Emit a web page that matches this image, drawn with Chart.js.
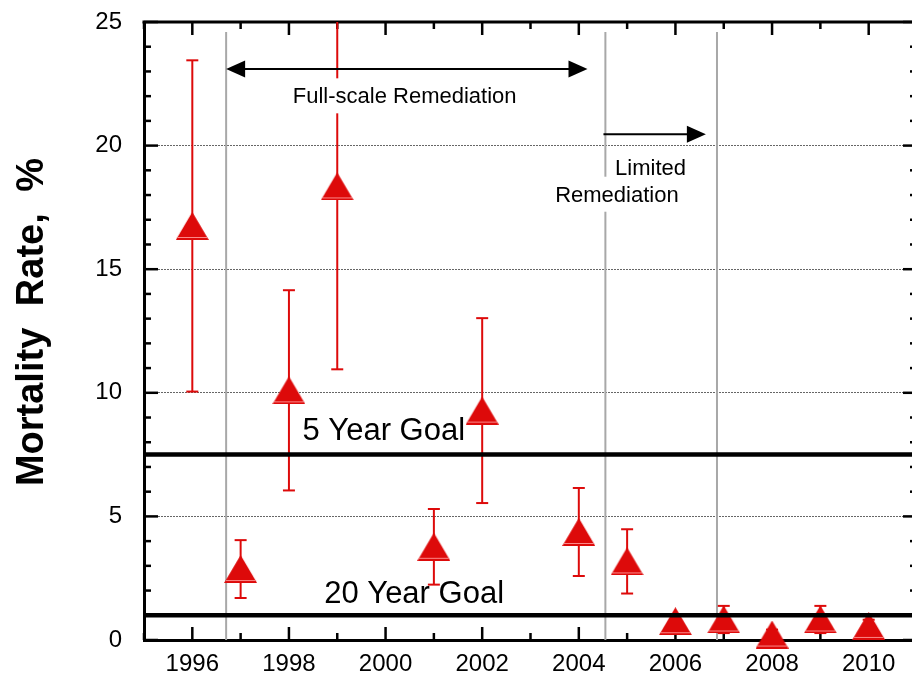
<!DOCTYPE html>
<html>
<head>
<meta charset="utf-8">
<script src="https://cdn.jsdelivr.net/npm/chart.js@4.4.1/dist/chart.umd.min.js"></script>
<style>
  html, body { margin: 0; padding: 0; background: #fff; overflow: hidden; }
  #wrap { width: 919px; height: 677px; }
</style>
</head>
<body>
<div id="wrap"><canvas id="c" width="919" height="677"></canvas></div>
<script>
// Annual mortality rate (%) with error half-widths
const years  = [1996, 1997, 1998, 1999, 2001, 2002, 2004, 2005, 2006, 2007, 2008, 2009, 2010];
const rates  = [16.75, 2.87, 10.1, 18.35, 3.77, 9.28, 4.37, 3.18, 0.76, 0.83, 0.22, 0.83, 0.57];
const errors = [6.7, 1.17, 4.05, 7.4, 1.53, 3.74, 1.78, 1.3, 0.25, 0.55, 0.2, 0.55, 0.25];

// Reference levels and remediation phase boundaries (years)
const goalValues  = [7.5, 1.0];
const goalLabels  = ['5 Year Goal', '20 Year Goal'];
const phaseBounds = [1996.7, 2004.55, 2006.86];
const phaseLabels = ['Full-scale Remediation', 'Limited', 'Remediation'];

const FONT = 'Arial, "Liberation Sans", sans-serif';
const RED = '#dd0a0a';

// Placement of annotations in data coordinates
const layoutNotes = {
  goalText: [{ x: 1998.28, y: 8.09 }, { x: 1998.73, y: 1.485 }],
  phaseText: [{ x: 1998.08, y: 21.71 }, { x: 2004.75, y: 18.81 }, { x: 2003.51, y: 17.73 }],
  arrows: [
    { x1: phaseBounds[0], x2: 2004.18, y: 23.1, both: true },
    { x1: 2004.51, x2: 2006.63, y: 20.46, both: false }
  ],
  boundTop: 24.6
};

function makeTriangle(w, h) {
  const c = document.createElement('canvas');
  c.width = w; c.height = h;
  const g = c.getContext('2d');
  g.fillStyle = RED;
  g.beginPath();
  g.moveTo(w / 2, 0); g.lineTo(w, h); g.lineTo(0, h); g.closePath();
  g.fill();
  g.strokeStyle = 'rgba(255,150,150,0.9)';
  g.lineWidth = 1;
  g.beginPath();
  g.moveTo(2, h - 2.5); g.lineTo(w - 2, h - 2.5);
  g.stroke();
  return c;
}
const triangle = makeTriangle(33, 28);

function seg(ctx, x1, y1, x2, y2) {
  ctx.beginPath(); ctx.moveTo(x1, y1); ctx.lineTo(x2, y2); ctx.stroke();
}
function head(ctx, tipX, y, dir) {
  ctx.beginPath();
  ctx.moveTo(tipX, y);
  ctx.lineTo(tipX - dir * 19, y - 8.5);
  ctx.lineTo(tipX - dir * 19, y + 8.5);
  ctx.closePath();
  ctx.fill();
}
function noEdgePadding(s) {
  s.paddingLeft = 0; s.paddingRight = 0; s.paddingTop = 0; s.paddingBottom = 0;
}

// Frame, inward ticks, phase boundaries and error bars (under the markers)
const underlay = {
  id: 'underlay',
  beforeDatasetsDraw(chart) {
    const { ctx, chartArea: a, scales: { x: xs, y: ys } } = chart;
    ctx.save();
    ctx.strokeStyle = '#000';
    ctx.lineWidth = 3;
    seg(ctx, a.left - 1.5, a.top, a.right, a.top);
    seg(ctx, a.right, a.top, a.right, a.bottom);
    ctx.lineWidth = 2.5;
    for (let yr = xs.min; yr <= xs.max; yr++) {
      const px = xs.getPixelForValue(yr);
      const len = yr % 2 === 0 ? 13 : 7;
      seg(ctx, px, a.bottom, px, a.bottom - len);
      seg(ctx, px, a.top, px, a.top + len);
    }
    for (let v = ys.min; v <= ys.max; v++) {
      const py = ys.getPixelForValue(v);
      const len = v % 5 === 0 ? 14 : 7;
      seg(ctx, a.left, py, a.left + len, py);
      seg(ctx, a.right, py, a.right - len, py);
    }
    // phase boundaries
    ctx.strokeStyle = '#a8a8a8';
    ctx.lineWidth = 2;
    phaseBounds.forEach(b => {
      const px = xs.getPixelForValue(b);
      seg(ctx, px, ys.getPixelForValue(layoutNotes.boundTop), px, a.bottom);
    });
    // error bars
    ctx.beginPath();
    ctx.rect(a.left, a.top, a.right - a.left, a.bottom - a.top);
    ctx.clip();
    ctx.strokeStyle = RED;
    ctx.lineWidth = 2;
    years.forEach((yr, i) => {
      const px = xs.getPixelForValue(yr);
      const hi = ys.getPixelForValue(rates[i] + errors[i]);
      const lo = ys.getPixelForValue(rates[i] - errors[i]);
      seg(ctx, px, hi, px, lo);
      seg(ctx, px - 6, hi, px + 6, hi);
      seg(ctx, px - 6, lo, px + 6, lo);
    });
    ctx.restore();
  }
};

// Goal lines, arrows and captions (over the markers)
const overlay = {
  id: 'overlay',
  afterDatasetsDraw(chart) {
    const { ctx, chartArea: a, scales: { x: xs, y: ys } } = chart;
    ctx.save();
    ctx.strokeStyle = '#000';
    ctx.fillStyle = '#000';
    ctx.lineWidth = 4.5;
    goalValues.forEach(g => {
      const py = ys.getPixelForValue(g);
      seg(ctx, a.left, py, a.right, py);
    });
    ctx.font = '31px ' + FONT;
    ctx.textBaseline = 'alphabetic';
    ctx.textAlign = 'left';
    goalLabels.forEach((t, i) => {
      const p = layoutNotes.goalText[i];
      ctx.fillText(t, xs.getPixelForValue(p.x), ys.getPixelForValue(p.y));
    });
    // arrows
    ctx.lineWidth = 2;
    layoutNotes.arrows.forEach(ar => {
      const x1 = xs.getPixelForValue(ar.x1), x2 = xs.getPixelForValue(ar.x2);
      const py = ys.getPixelForValue(ar.y);
      seg(ctx, x1 + (ar.both ? 10 : 0), py, x2 - 10, py);
      head(ctx, x2, py, 1);
      if (ar.both) head(ctx, x1, py, -1);
    });
    // phase captions on white boxes
    ctx.font = '22px ' + FONT;
    const pos = phaseLabels.map((t, i) => {
      const p = layoutNotes.phaseText[i];
      return { t, x: xs.getPixelForValue(p.x), y: ys.getPixelForValue(p.y), w: ctx.measureText(t).width };
    });
    ctx.fillStyle = '#fff';
    pos.forEach(p => ctx.fillRect(p.x - 3, p.y - 25, p.w + 6, 35));
    ctx.fillStyle = '#000';
    pos.forEach(p => ctx.fillText(p.t, p.x, p.y));
    // y-axis title
    ctx.save();
    ctx.translate(43, (a.top + a.bottom) / 2 - 9);
    ctx.rotate(-Math.PI / 2);
    ctx.font = 'bold 38px ' + FONT;
    ctx.textAlign = 'center';
    if ('wordSpacing' in ctx) ctx.wordSpacing = '11px';
    ctx.fillText('Mortality Rate, %', 0, 0);
    ctx.restore();
    ctx.restore();
  }
};

new Chart(document.getElementById('c'), {
  type: 'scatter',
  data: {
    datasets: [{
      data: years.map((x, i) => ({ x, y: rates[i] })),
      pointStyle: triangle,
      pointRadius: 1,
      pointHoverRadius: 1,
      pointBorderWidth: 0,
      showLine: false,
      clip: false
    }]
  },
  options: {
    responsive: false,
    animation: false,
    devicePixelRatio: 1,
    events: [],
    layout: { padding: { top: 22, right: 2, left: 0, bottom: 0 } },
    plugins: { legend: { display: false }, tooltip: { enabled: false } },
    scales: {
      x: {
        type: 'linear',
        min: 1995,
        max: 2011,
        afterFit(s) { s.height = 37; noEdgePadding(s); },
        grid: { display: false, drawTicks: false },
        border: { display: true, color: '#000', width: 3 },
        ticks: {
          stepSize: 1,
          autoSkip: false,
          maxRotation: 0,
          padding: 10,
          color: '#000',
          font: { family: FONT, size: 24 },
          callback: v => (v % 2 === 0 ? String(v) : '')
        }
      },
      y: {
        min: 0,
        max: 25,
        afterFit(s) { s.width = 144; noEdgePadding(s); },
        grid: {
          drawTicks: false,
          lineWidth: 1,
          color: c => (c.tick && c.tick.value > 0 && c.tick.value < 25) ? '#666666' : 'rgba(0,0,0,0)'
        },
        border: { display: true, color: '#000', width: 3, dash: [2, 1] },
        ticks: {
          stepSize: 5,
          padding: 22,
          color: '#000',
          font: { family: FONT, size: 24 }
        }
      }
    }
  },
  plugins: [underlay, overlay]
});
</script>
</body>
</html>
